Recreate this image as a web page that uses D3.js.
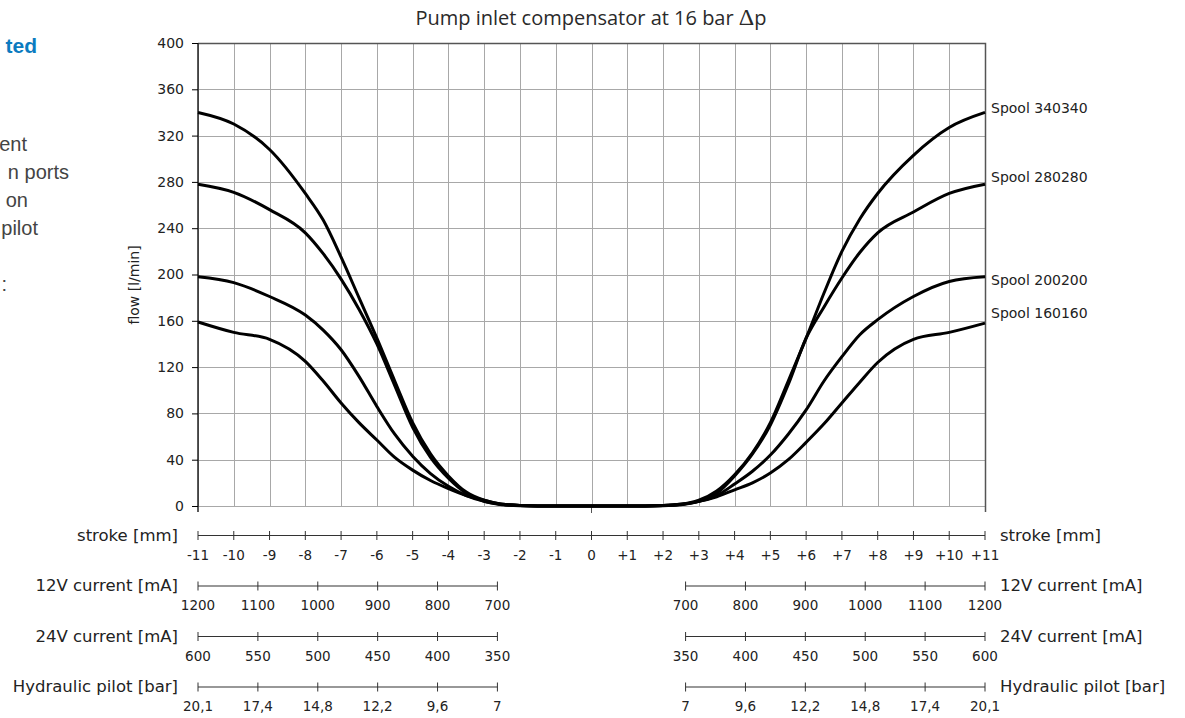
<!DOCTYPE html>
<html>
<head>
<meta charset="utf-8">
<script src="https://cdnjs.cloudflare.com/ajax/libs/d3/7.8.5/d3.min.js"></script>
<style>
  body { margin: 0; background: #fff; }
  svg { display: block; }
  .grid line { stroke: #a8a8a8; stroke-width: 1; shape-rendering: crispEdges; }
  .tick-lbl { font-family: "DejaVu Sans", Verdana, sans-serif; font-size: 13.5px; fill: #222; }
  .row-title { font-family: "DejaVu Sans", Verdana, sans-serif; font-size: 16.5px; fill: #222; }
</style>
</head>
<body>
<div id="chart"></div>
<script>
// stroke positions (mm) shared by all curves
var strokeMm = [-11, -10, -9, -8, -7.5, -7, -6.5, -6, -5.5, -5, -4.5, -4, -3.5, -3, -2.5, -2, -1, 0,
                1, 2, 2.5, 3, 3.5, 4, 4.5, 5, 5.5, 6, 6.5, 7, 7.5, 8, 9, 10, 11];

// flow [l/min] per spool
var spool340 = [340, 330, 308, 270, 247, 215, 180, 145, 108, 72, 45, 26, 12, 5, 1.5, 0.5, 0, 0,
                0, 0.5, 1.5, 5, 13, 27, 46, 72, 108, 145, 184, 220, 248, 270, 303, 327, 340];
var spool280 = [278, 271, 256, 236, 218, 196, 170, 140, 104, 68, 42, 24, 11, 4, 1.5, 0.5, 0, 0,
                0, 0.5, 1.5, 4, 11, 26, 45, 70, 105, 145, 172, 197, 219, 236, 254, 270, 278];
var spool200 = [198, 193, 181, 165, 152, 135, 112, 86, 62, 43, 28, 17, 9, 4, 1, 0.3, 0, 0,
                0, 0.3, 1, 4, 9, 19, 30, 44, 62, 83, 108, 129, 148, 161, 181, 194, 198];
var spool160 = [159, 150, 144, 125, 108, 89, 72, 57, 42, 31, 22, 15, 9, 5, 1.5, 0.5, 0, 0,
                0, 0.5, 1.5, 4, 8, 14, 20, 28.5, 40, 55, 71, 89, 107, 124, 144, 150, 158];

var spoolNames = ["Spool 340340", "Spool 280280", "Spool 200200", "Spool 160160"];
var spoolSeries = [spool340, spool280, spool200, spool160];

var flowTicks = [0, 40, 80, 120, 160, 200, 240, 280, 320, 360, 400];
var strokeTicks = [-11, -10, -9, -8, -7, -6, -5, -4, -3, -2, -1, 0, 1, 2, 3, 4, 5, 6, 7, 8, 9, 10, 11];

var current12V = [1200, 1100, 1000, 900, 800, 700];
var current24V = [600, 550, 500, 450, 400, 350];
var pilotBar = [20.1, 17.4, 14.8, 12.2, 9.6, 7];

var rowTitles = ["stroke [mm]", "12V current [mA]", "24V current [mA]", "Hydraulic pilot [bar]"];

(function(){
  var width = 1185, height = 718;
  var left = 198, right = 985, top = 43, bottom = 506;
  var startStroke = 2.63; // where the current/pilot scales begin

  var svg = d3.select("#chart").append("svg")
    .attr("width", width)
    .attr("height", height);

  var x = d3.scaleLinear().domain([-11, 11]).range([left, right]);
  var y = d3.scaleLinear().domain([0, 400]).range([bottom, top]);

  // text cut off at the page edge
  var side = svg.append("g").attr("font-family", "'Liberation Sans', Arial, sans-serif");
  side.append("text").attr("x", 37).attr("y", 53).attr("text-anchor", "end")
    .attr("font-size", 21).attr("font-weight", "bold").attr("fill", "#0b7bc0").text("ted");
  var para = [["ent", 27, 151], ["n ports", 69, 179], ["on", 28, 207], ["pilot", 38, 235], [":", 7, 291]];
  para.forEach(function(p){
    side.append("text").attr("x", p[1]).attr("y", p[2]).attr("text-anchor", "end")
      .attr("font-size", 20).attr("fill", "#444").text(p[0]);
  });

  // title
  var title = svg.append("text")
    .attr("x", 591).attr("y", 25)
    .attr("text-anchor", "middle")
    .attr("font-family", "'Open Sans', 'Liberation Sans', sans-serif")
    .attr("font-size", 20).attr("fill", "#2a2a2a");
  title.append("tspan").text("Pump inlet compensator at 16 bar ");
  title.append("tspan").attr("font-family", "'Liberation Serif', 'Times New Roman', serif")
    .attr("font-size", 24).text("\u0394");
  title.append("tspan").text("p");

  // grid
  var grid = svg.append("g").attr("class", "grid");
  grid.selectAll(".v").data(strokeTicks).enter().append("line")
    .attr("x1", function(d){ return Math.round(x(d)) + 0.5; })
    .attr("x2", function(d){ return Math.round(x(d)) + 0.5; })
    .attr("y1", top).attr("y2", bottom);
  grid.selectAll(".h").data(flowTicks).enter().append("line")
    .attr("x1", left).attr("x2", right)
    .attr("y1", function(d){ return Math.round(y(d)) + 0.5; })
    .attr("y2", function(d){ return Math.round(y(d)) + 0.5; });

  // frame
  svg.append("path")
    .attr("d", "M" + left + "," + (top + 0.5) + "H" + (right + 0.5) + "V" + (bottom + 6))
    .attr("fill", "none").attr("stroke", "#555").attr("stroke-width", 1.5);

  // y axis
  var yAxis = svg.append("g")
    .attr("transform", "translate(" + left + ",0)")
    .call(d3.axisLeft(y).tickValues(flowTicks).tickSize(6).tickPadding(8).tickSizeOuter(0));
  yAxis.select(".domain").attr("stroke", "#222").attr("stroke-width", 1.5)
    .attr("d", "M0," + top + "V" + (bottom + 6));
  yAxis.selectAll("text").attr("font-family", "'DejaVu Sans', Verdana, sans-serif")
    .attr("font-size", 14).attr("fill", "#222");

  svg.append("line").attr("x1", x(0)).attr("x2", x(0))
    .attr("y1", bottom).attr("y2", bottom + 7).attr("stroke", "#555");

  svg.append("text")
    .attr("transform", "translate(139,285) rotate(-90)")
    .attr("text-anchor", "middle")
    .attr("font-family", "'DejaVu Sans', Verdana, sans-serif")
    .attr("font-size", 14).attr("fill", "#222")
    .text("flow [l/min]");

  // curves
  var line = d3.line()
    .x(function(d, i){ return x(strokeMm[i]); })
    .y(function(d){ return y(d); })
    .curve(d3.curveMonotoneX);

  svg.selectAll(".curve").data(spoolSeries).enter().append("path")
    .attr("class", "curve")
    .attr("d", line)
    .attr("fill", "none").attr("stroke", "#000")
    .attr("stroke-width", 3).attr("stroke-linejoin", "round");

  var labelDy = [-4, -7, 3, -10];
  svg.selectAll(".spool").data(spoolSeries).enter().append("text")
    .attr("x", right + 6)
    .attr("y", function(d, i){ return y(d[d.length - 1]) + labelDy[i]; })
    .attr("dy", "0.35em")
    .attr("font-family", "'DejaVu Sans', Verdana, sans-serif")
    .attr("font-size", 14).attr("fill", "#222")
    .text(function(d, i){ return spoolNames[i]; });

  // bottom scales
  var rowY = [535, 585.5, 636, 686.5];
  var comma = d3.formatLocale({decimal: ",", thousands: ".", grouping: [3], currency: ["", ""]}).format("");

  function scaleRow(g, scale, ticks, fmt, y0){
    var r = scale.range();
    g.append("line").attr("x1", r[0]).attr("x2", r[r.length - 1])
      .attr("y1", y0 + 0.5).attr("y2", y0 + 0.5)
      .attr("stroke", "#333").attr("stroke-width", 1.2);
    g.selectAll(".tk").data(ticks).enter().append("line")
      .attr("x1", function(d){ return scale(d); })
      .attr("x2", function(d){ return scale(d); })
      .attr("y1", y0 - 4).attr("y2", y0 + 5)
      .attr("stroke", "#333");
    g.selectAll(".lb").data(ticks).enter().append("text")
      .attr("class", "tick-lbl")
      .attr("x", function(d){ return scale(d); })
      .attr("y", y0 + 20).attr("dy", "0.35em")
      .attr("text-anchor", "middle")
      .text(fmt);
  }

  var rows = svg.append("g");
  scaleRow(rows.append("g"), x, strokeTicks, function(d){ return d > 0 ? "+" + d : String(d); }, rowY[0]);

  var sideRows = [[current12V, String], [current24V, String], [pilotBar, comma]];
  sideRows.forEach(function(r, i){
    var lScale = d3.scalePoint().domain(r[0]).range([x(-11), x(-startStroke)]);
    var rScale = d3.scalePoint().domain(r[0].slice().reverse()).range([x(startStroke), x(11)]);
    scaleRow(rows.append("g"), lScale, r[0], r[1], rowY[i + 1]);
    scaleRow(rows.append("g"), rScale, r[0], r[1], rowY[i + 1]);
  });

  rowTitles.forEach(function(t, i){
    rows.append("text").attr("class", "row-title")
      .attr("x", 178).attr("y", rowY[i]).attr("dy", "0.35em")
      .attr("text-anchor", "end").text(t);
    rows.append("text").attr("class", "row-title")
      .attr("x", 1000).attr("y", rowY[i]).attr("dy", "0.35em")
      .text(t);
  });
}());
</script>
</body>
</html>
